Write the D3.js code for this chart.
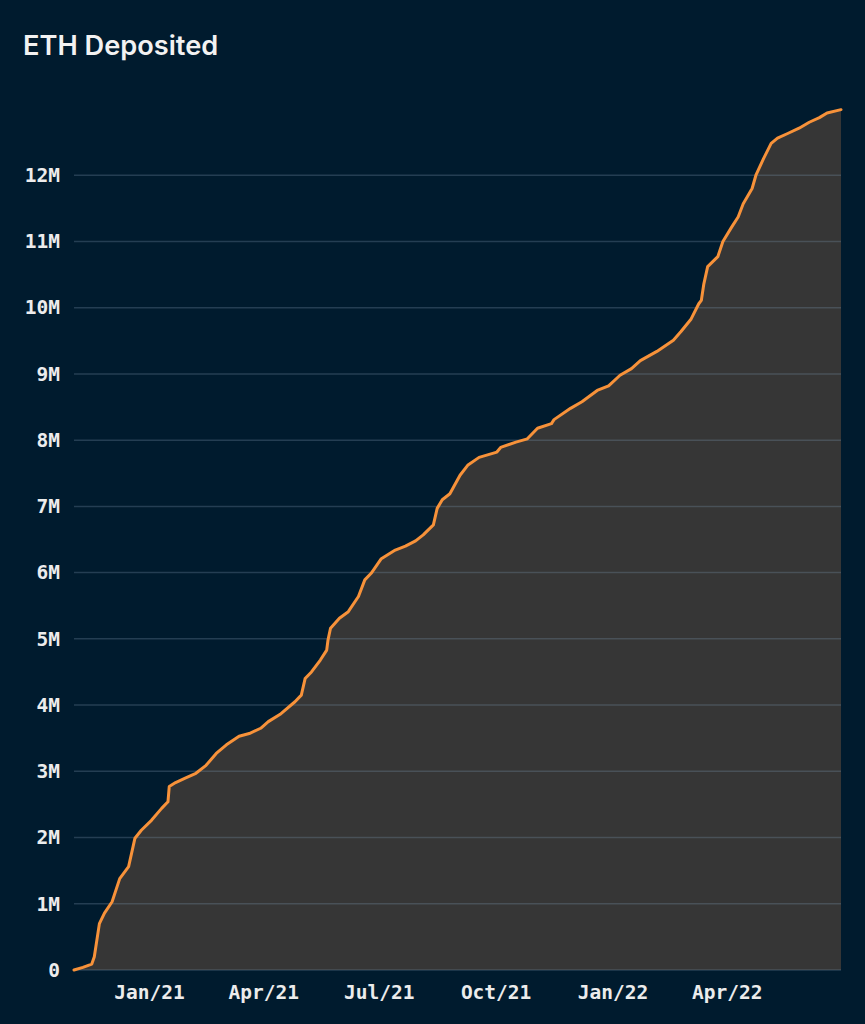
<!DOCTYPE html>
<html>
<head>
<meta charset="utf-8">
<script src="https://cdn.jsdelivr.net/npm/d3@7"></script>
<style>
  body { margin: 0; background: #001b2e; }
  #chart { width: 865px; height: 1024px; }
</style>
</head>
<body>
<div id="chart"></div>
<script>
// cumulative ETH deposited (millions)
const dates = [
  "2020-11-03","2020-11-10","2020-11-17","2020-11-19","2020-11-23","2020-11-27",
  "2020-12-03","2020-12-09","2020-12-16","2020-12-21","2020-12-26",
  "2021-01-03","2021-01-11","2021-01-16","2021-01-17","2021-01-22","2021-01-30",
  "2021-02-07","2021-02-15","2021-02-23","2021-03-03","2021-03-13","2021-03-21",
  "2021-03-30","2021-04-05","2021-04-15","2021-04-26","2021-05-01","2021-05-04",
  "2021-05-09","2021-05-16","2021-05-21","2021-05-22","2021-05-24","2021-05-31",
  "2021-06-07","2021-06-15","2021-06-20","2021-06-25","2021-07-03","2021-07-14",
  "2021-07-22","2021-07-30","2021-08-05","2021-08-13","2021-08-16","2021-08-20",
  "2021-08-26","2021-09-03","2021-09-09","2021-09-18","2021-10-02","2021-10-05",
  "2021-10-17","2021-10-26","2021-11-03","2021-11-14","2021-11-16","2021-11-29",
  "2021-12-08","2021-12-20","2021-12-29","2022-01-07","2022-01-16","2022-01-23",
  "2022-02-05","2022-02-18","2022-02-24","2022-03-04","2022-03-10","2022-03-12",
  "2022-03-14","2022-03-17","2022-03-25","2022-03-29","2022-04-05","2022-04-10",
  "2022-04-14","2022-04-21","2022-04-24","2022-04-30","2022-05-06","2022-05-11",
  "2022-05-19","2022-05-28","2022-06-05","2022-06-13","2022-06-19","2022-06-30"
];
const deposited = [
  0.00, 0.04, 0.09, 0.20, 0.70, 0.86,
  1.03, 1.38, 1.56, 1.99, 2.11,
  2.26, 2.44, 2.54, 2.77, 2.83, 2.90,
  2.97, 3.09, 3.27, 3.40, 3.53, 3.57,
  3.65, 3.75, 3.87, 4.05, 4.15, 4.40,
  4.50, 4.68, 4.83, 4.98, 5.16, 5.31,
  5.41, 5.64, 5.89, 5.99, 6.21, 6.34,
  6.40, 6.48, 6.57, 6.72, 6.97, 7.10,
  7.19, 7.47, 7.62, 7.74, 7.82, 7.89,
  7.97, 8.02, 8.18, 8.25, 8.31, 8.48,
  8.58, 8.75, 8.82, 8.98, 9.08, 9.20,
  9.34, 9.51, 9.64, 9.83, 10.06, 10.11,
  10.36, 10.62, 10.77, 11.00, 11.22, 11.37,
  11.57, 11.80, 12.00, 12.25, 12.48, 12.56,
  12.63, 12.71, 12.80, 12.87, 12.94, 12.99
];
const yTicks = [0, 1, 2, 3, 4, 5, 6, 7, 8, 9, 10, 11, 12];
const xTicks = ["2021-01-01","2021-04-01","2021-07-01","2021-10-01","2022-01-01","2022-04-01"];
const title = "ETH Deposited";

const parse = d3.utcParse("%Y-%m-%d");
const data = dates.map((d, i) => ({ date: parse(d), value: deposited[i] * 1e6 }));

const W = 865, H = 1024;
const margin = {top: 109, right: 24, bottom: 54, left: 74};

const svg = d3.select("#chart")
  .append("svg")
  .attr("width", W)
  .attr("height", H)
  .style("font-family", "'DejaVu Sans Mono', monospace");

svg.append("rect").attr("width", W).attr("height", H).attr("fill", "#001b2e");

const x = d3.scaleUtc()
  .domain([parse("2020-11-03"), parse("2022-06-30")])
  .range([margin.left, W - margin.right]);

const y = d3.scaleLinear()
  .domain([0, 13e6])
  .range([H - margin.bottom, margin.top]);

// title
svg.append("text")
  .attr("x", 23)
  .attr("y", 55)
  .attr("fill", "#f2f2f2")
  .style("font-family", "Inter, 'Noto Sans', sans-serif")
  .style("font-weight", 600)
  .style("font-size", "27.2px")
  .text(title);

// area
const area = d3.area()
  .x(d => x(d.date))
  .y0(y(0))
  .y1(d => y(d.value));

svg.append("path")
  .datum(data)
  .attr("d", area)
  .attr("fill", "#363636");

// gridlines
svg.append("g")
  .selectAll("line")
  .data(yTicks)
  .join("line")
  .attr("x1", margin.left)
  .attr("x2", W - margin.right)
  .attr("y1", d => y(d * 1e6))
  .attr("y2", d => y(d * 1e6))
  .attr("stroke", "rgba(120,145,170,0.3)")
  .attr("stroke-width", 1.5);

// y axis
const yAxis = svg.append("g")
  .attr("transform", `translate(${margin.left},0)`)
  .call(d3.axisLeft(y)
    .tickValues(yTicks.map(d => d * 1e6))
    .tickFormat(d => d === 0 ? "0" : (d / 1e6) + "M")
    .tickSize(0)
    .tickPadding(14));
yAxis.select(".domain").remove();
yAxis.selectAll("text")
  .attr("fill", "#ececec")
  .style("font-size", "19.5px")
  .style("font-weight", "bold")
  .style("font-family", "'DejaVu Sans Mono', monospace");

// x axis
const xAxis = svg.append("g")
  .attr("transform", `translate(0,${H - margin.bottom})`)
  .call(d3.axisBottom(x)
    .tickValues(xTicks.map(parse))
    .tickFormat(d3.utcFormat("%b/%y"))
    .tickSize(0)
    .tickPadding(15));
xAxis.select(".domain").remove();
xAxis.selectAll("text")
  .attr("fill", "#ececec")
  .style("font-size", "19.5px")
  .style("font-weight", "bold")
  .style("font-family", "'DejaVu Sans Mono', monospace");

// line
const line = d3.line()
  .x(d => x(d.date))
  .y(d => y(d.value));

svg.append("path")
  .datum(data)
  .attr("d", line)
  .attr("fill", "none")
  .attr("stroke", "#f7923a")
  .attr("stroke-width", 3)
  .attr("stroke-linejoin", "round")
  .attr("stroke-linecap", "round");
</script>
</body>
</html>
